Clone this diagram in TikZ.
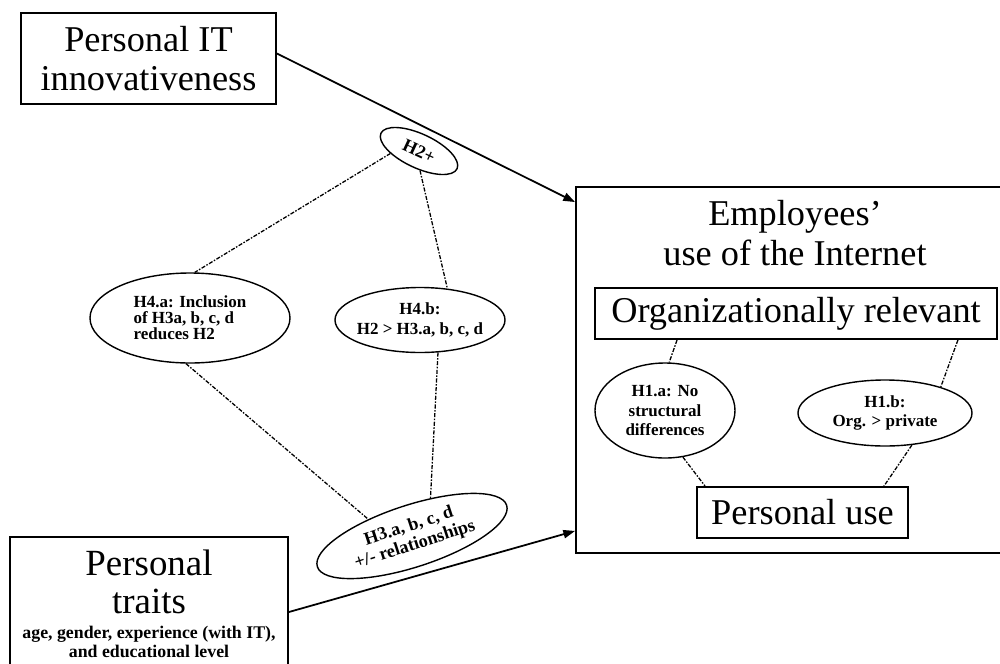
\documentclass[tikz,border=0pt]{standalone}
\usepackage{fontspec}
\setmainfont{Liberation Serif}
\usepackage{tikz}
\usetikzlibrary{arrows.meta,shapes.geometric,positioning}
\tikzset{
  um diagram/.style={line cap=butt, line join=miter},
  um box/.style={draw, line width=1.6pt, rectangle, align=center,
    inner sep=0pt, font=\fontsize{31}{34}\selectfont},
  um title/.style={align=center, inner sep=0pt,
    font=\fontsize{31}{34}\selectfont},
  um note/.style={align=center, inner sep=0pt,
    font=\fontsize{15.2}{16.2}\selectfont\bfseries},
  um hyp/.style={draw, ellipse, line width=1.2pt, align=center,
    inner xsep=-0.6cm, inner ysep=0pt,
    font=\fontsize{14.5}{16.5}\selectfont\bfseries},
  um arrow/.style={-{Triangle[length=10pt,width=7pt]}, line width=1.5pt},
  um link/.style={line width=1.1pt,
    dash pattern=on 3.5pt off 1.3pt on 1.3pt off 1.3pt}
}
\begin{document}
\begin{tikzpicture}[um diagram,x=0.03cm,y=-0.03cm]
\useasboundingbox (0,0) rectangle (1000,663);
\node[um box, minimum width=7.65cm, minimum height=2.73cm] (innov) at (148.5,58.5) {Personal IT\\innovativeness};
\node[um box, minimum width=8.34cm, minimum height=3.93cm] (traits) at (149,602.5) {};
\node[um title, font=\fontsize{31.5}{32.4}\selectfont] (traitsname) at (149,581.5) {Personal\\traits};
\node[um note] (traitsnote) at (149,641.5) {age, gender, experience (with IT),\\and educational level};
\node[um box, minimum width=13.14cm, minimum height=10.98cm] (emp) at (795,370) {};
\node[um title] (emptitle) at (795,233) {Employees'\\use of the Internet};
\node[um box, minimum width=12.06cm, minimum height=1.53cm] (org) at (796,313.5) {Organizationally relevant};
\node[um box, minimum width=6.33cm, minimum height=1.53cm] (puse) at (802.5,512.5) {Personal use};
\node[um hyp, minimum width=4.2cm, minimum height=2.85cm] (h1a) at (665,410.5) {H1.a: No\\structural\\differences};
\node[um hyp, minimum width=5.22cm, minimum height=1.98cm] (h1b) at (885,413) {H1.b:\\Org. > private};
\node[um hyp, minimum width=2.52cm, minimum height=1.02cm, rotate=-25, font=\fontsize{15.5}{16}\selectfont\bfseries] (h2p) at (419,151) {H2+};
\node[um hyp, minimum width=6cm, minimum height=2.7cm, align=left, font=\fontsize{14.5}{13.5}\selectfont\bfseries] (h4a) at (190,318) {H4.a: Inclusion\\of H3a, b, c, d\\reduces H2};
\node[um hyp, minimum width=5.1cm, minimum height=1.95cm] (h4b) at (420,320) {H4.b:\\H2 > H3.a, b, c, d};
\node[um hyp, minimum width=5.97cm, minimum height=1.86cm, rotate=18, font=\fontsize{15.5}{16.5}\selectfont\bfseries] (h3) at (412,536) {H3.a, b, c, d\\+/- relationships};
\draw[um arrow] ([yshift=0.15cm]innov.east) -- ([yshift=-0.48cm]emp.north west);
\draw[um arrow] ([yshift=-0.285cm]traits.east) -- ([yshift=0.69cm]emp.south west);
\draw[um link] (h2p.210) -- (h4a.84);
\draw[um link] (h2p.298) -- (h4b.49);
\draw[um link] (h4a.265) -- (h3.141);
\draw[um link] (h4b.299) -- (h3.46);
\draw[um link] ([xshift=2.49cm]org.south west) -- (h1a.85);
\draw[um link] ([xshift=-1.2cm]org.south east) -- (h1b.25);
\draw[um link] (h1a.291) -- ([xshift=0.27cm]puse.north west);
\draw[um link] (h1b.310) -- ([xshift=-0.75cm]puse.north east);
\end{tikzpicture}
\end{document}
